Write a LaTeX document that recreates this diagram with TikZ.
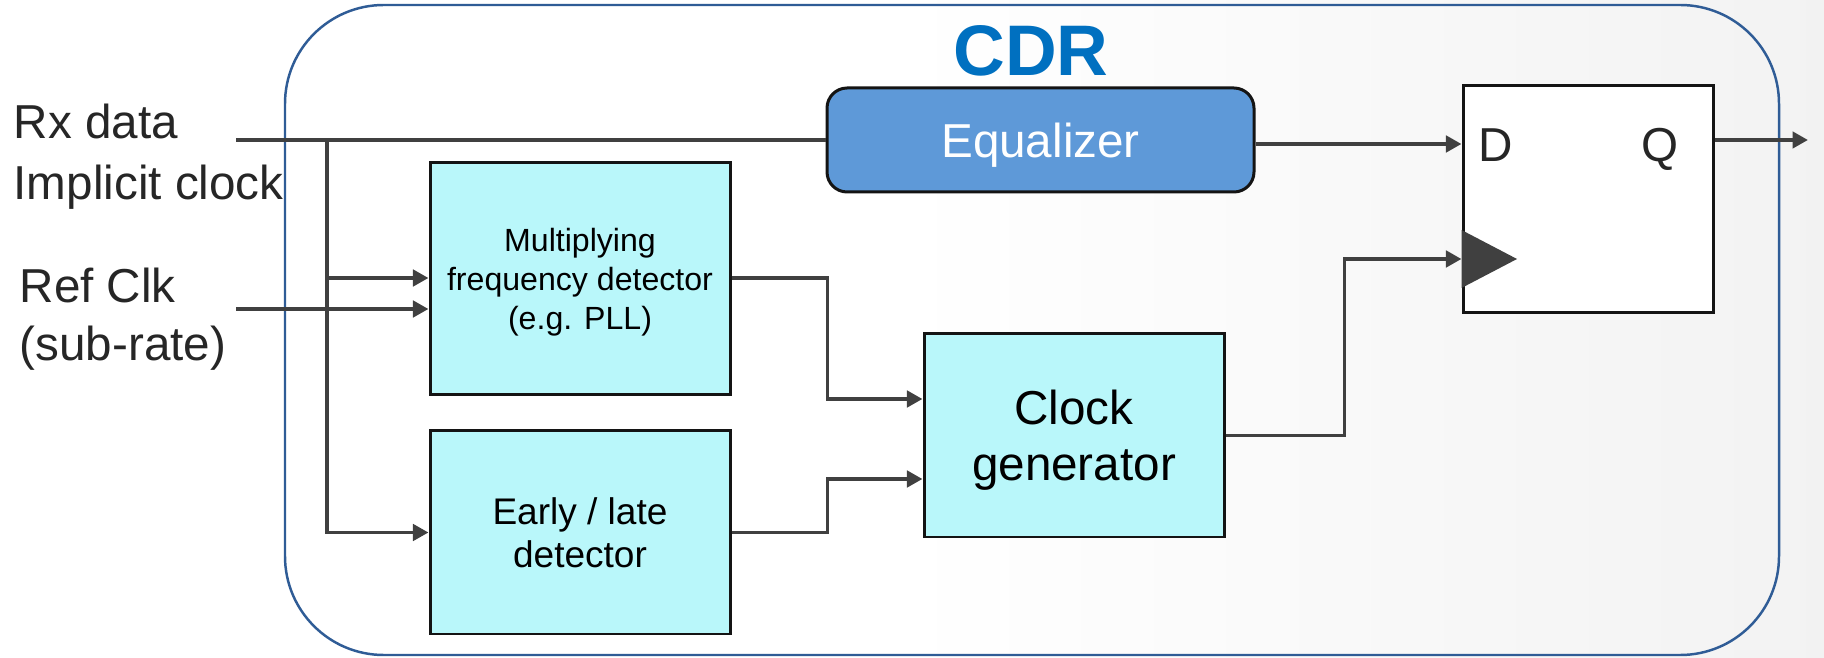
\documentclass[tikz,border=0pt]{standalone}
\usepackage{fontspec}
\setmainfont{Liberation Sans}
\usetikzlibrary{arrows.meta}
\definecolor{wire}{RGB}{64,64,64}
\definecolor{frame}{RGB}{47,92,150}
\definecolor{cdrblue}{RGB}{0,112,192}
\definecolor{eqfill}{RGB}{94,153,216}
\definecolor{cyanfill}{RGB}{185,247,250}
\definecolor{edge}{RGB}{20,20,20}
\newcommand\pxl{0.2835pt}
\tikzset{
  blk/.style={draw=edge, line width=0.85pt, fill=cyanfill, inner sep=0pt, align=center, text depth=0pt},
  arr/.style={draw=wire, line width=1.1pt, -{Triangle[length=4.4pt,width=4.6pt]}},
  wireline/.style={draw=wire, line width=1.1pt},
  lbl/.style={inner sep=0pt, anchor=base west, font=\fontsize{13.5}{16}\selectfont, text=black!85},
  pin/.style={inner sep=0pt, text depth=0pt, font=\fontsize{13.5}{16}\selectfont, text=black!85},
}
\begin{document}
\begin{tikzpicture}[x=0.2835pt, y=-0.2835pt]
  \useasboundingbox (0,0) rectangle (1824,658);
  % paper background
  \fill[white] (0,0) rectangle (1824,658);
  \shade[left color=white, right color=black!5] (900,0) rectangle (1824,658);

  % CDR enclosure
  \draw[frame, line width=0.7pt, rounded corners=28pt] (285,5) rectangle (1779,655);
  \node[inner sep=0pt, text depth=0pt, text=cdrblue, font=\bfseries\fontsize{20.3}{24}\selectfont] (cdr) at (1031,51) {CDR};

  % blocks
  \node[draw=edge, line width=0.85pt, fill=eqfill, rounded corners=5.7pt, inner sep=0pt, text depth=0pt,
        minimum width={427*\pxl}, minimum height={104*\pxl}, text=white,
        font=\fontsize{13.5}{16}\selectfont] (eq) at (1040.5,140) {Equalizer};
  \node[blk, minimum width={300*\pxl}, minimum height={232*\pxl},
        font=\fontsize{9.1}{11}\selectfont] (mfd) at (580,279)
        {Multiplying\\frequency detector\\(e.g. PLL)};
  \node[blk, minimum width={300*\pxl}, minimum height={203*\pxl},
        font=\fontsize{10.5}{12.2}\selectfont] (el) at (580,532.5)
        {Early / late\\detector};
  \node[blk, minimum width={300*\pxl}, minimum height={203*\pxl},
        font=\fontsize{13.5}{15.9}\selectfont] (cg) at (1074,435.5)
        {Clock\\generator};
  \node[draw=edge, line width=0.85pt, fill=white, inner sep=0pt,
        minimum width={250*\pxl}, minimum height={227*\pxl}] (ff) at (1588,199.5) {};
  \node[pin] (dpin) at (1496,145) {D};
  \node[pin] (qpin) at (1660,145) {Q};
  \fill[wire] (ff.west |- 0,230) -- (ff.west |- 0,288) -- (1517,259) -- cycle;

  % external labels
  \node[lbl] (rx) at (13,139) {Rx data};
  \node[lbl] (ic) at (13,200) {Implicit clock};
  \node[lbl] (ref) at (19,303) {Ref Clk};
  \node[lbl] (sub) at (19,361) {(sub-rate)};

  % wiring
  \coordinate (rxin) at (236,140);
  \coordinate (br) at (327,140);
  \coordinate (refin) at (236,309);
  \coordinate (qout) at (1808,140);
  \draw[wireline] (rxin) -- (eq.west);
  \draw[arr] (br) |- (mfd.west |- 0,278);
  \draw[arr] (br) |- (el.west);
  \draw[arr] (refin) -- (refin -| mfd.west);
  \draw[arr] (mfd.east |- 0,278) -- ++(96,0) |- (cg.west |- 0,399);
  \draw[arr] (el.east) -- ++(96,0) |- (cg.west |- 0,479);
  \draw[arr] (cg.east) -- ++(119,0) |- (ff.west |- 0,259);
  \draw[arr] (eq.east |- 0,144) -- (ff.west |- 0,144);
  \draw[arr] (ff.east |- 0,140) -- (qout);
\end{tikzpicture}
\end{document}
